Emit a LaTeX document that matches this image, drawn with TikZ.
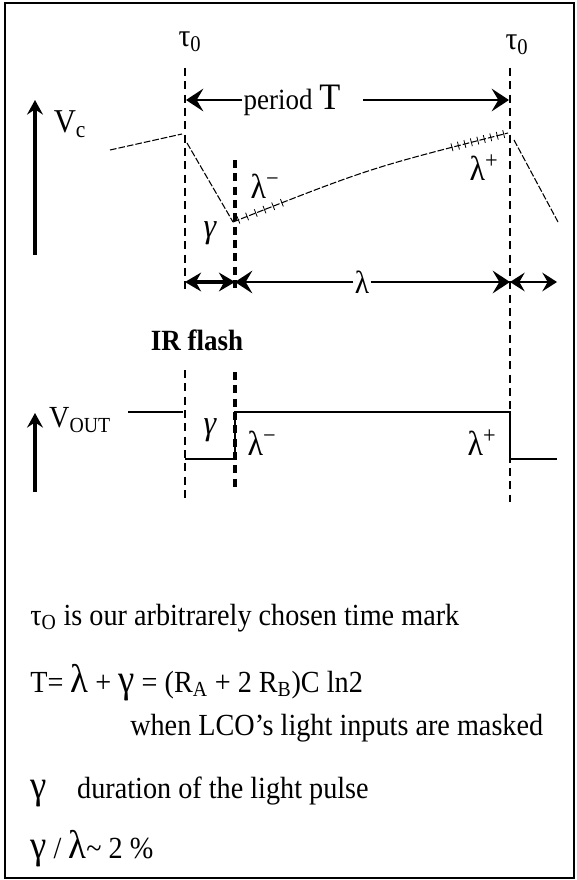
\documentclass[tikz,border=0pt]{standalone}
\usepackage{fontspec}
\setmainfont{Liberation Serif}[FakeStretch=0.92]
\usetikzlibrary{positioning,arrows.meta,calc,decorations.markings}

\newcommand{\bigsym}[1]{{\fontsize{30pt}{30pt}\selectfont #1}}

\begin{document}
\begin{tikzpicture}[
                    x=0.75pt, y=-0.75pt,
                    guide/.style={line width=0.8pt, dash pattern=on 6pt off 4pt},
                    guidebold/.style={line width=2.4pt, dash pattern=on 6pt off 4pt},
                    trace/.style={line width=0.8pt, dash pattern=on 5pt off 1.5pt},
                    level/.style={line width=1.2pt},
                    axis/.style={-{Stealth[length=11pt,width=12pt,inset=4pt]}, line width=2.4pt},
                    span/.style={-{Stealth[length=13pt,width=17pt,inset=5pt]}, line width=1.8pt},
                    lbl/.style={inner sep=1pt, font=\fontsize{23pt}{26pt}\selectfont},
                    note/.style={anchor=base west, inner sep=0pt, font=\fontsize{23pt}{26pt}\selectfont}
                ]
                    \useasboundingbox (0,0) rectangle (577,880);
                    \draw[line width=1pt] (5,3) rectangle (574,878);

                    % Time marks and guides
                    \node[lbl, font=\fontsize{24pt}{26pt}\selectfont] (tauL) at (190,42) {τ\textsubscript{0}};
                    \node[lbl, font=\fontsize{24pt}{26pt}\selectfont] (tauR) at (517,45) {τ\textsubscript{0}};
                    \coordinate (gLtop) at (185,68);
                    \coordinate (gLmid) at (185,293);
                    \coordinate (gLlow) at (185,370);
                    \coordinate (gLbot) at (185,503);
                    \coordinate (gMtop) at (235,160);
                    \coordinate (gMmid) at (235,293);
                    \coordinate (gMlow) at (235,372);
                    \coordinate (gMbot) at (235,487);
                    \coordinate (gRtop) at (510,68);
                    \coordinate (gRbot) at (510,502);
                    \draw[guide] (gLtop) -- (gLmid);
                    \draw[guide] (gLlow) -- (gLbot);
                    \draw[guidebold] (gMtop) -- (gMmid);
                    \draw[guidebold] (gMlow) -- (gMbot);
                    \draw[guidebold, line width=1.8pt] (gRtop) -- (gRbot);

                    % Period
                    \node[lbl] (period) at (292,100) {\fontsize{22pt}{24pt}\selectfont period \fontsize{28pt}{30pt}\selectfont T};
                    \coordinate (perL) at (186,100);
                    \coordinate (perR) at (509,100);
                    \draw[span] (period) -- (perL);
                    \draw[span] ([xshift=16pt]period.east) -- (perR);

                    % Vc
                    \coordinate (vcB) at (35,255);
                    \coordinate (vcT) at (35,100);
                    \draw[axis] (vcB) -- (vcT);
                    \node[lbl, font=\fontsize{25pt}{27pt}\selectfont] (vc) at (70,124) {V\textsubscript{c}};

                    \coordinate (w0) at (110,150);
                    \coordinate (w1) at (182,134);
                    \coordinate (w2) at (187,143);
                    \coordinate (w3) at (233,222);
                    \coordinate (w4) at (508,133);
                    \coordinate (w5) at (514,140);
                    \coordinate (w6) at (558,222);
                    \draw[trace] (w0) -- (w1);
                    \draw[trace] (w2) -- (w3);
                    \draw[trace, postaction={decorate, decoration={markings,
                        mark=between positions 0.02 and 0.2 step 7pt with {\draw[solid, line width=0.6pt] (0,-3pt) -- (0,3pt);},
                        mark=between positions 0.8 and 0.99 step 5pt with {\draw[solid, line width=0.6pt] (0,-3pt) -- (0,3pt);}}}]
                        (w3) .. controls (370,168) .. (w4);
                    \draw[trace] (w5) -- (w6);

                    \node[lbl, font=\fontsize{26pt}{28pt}\selectfont] (lamMup) at (265,186) {λ\textsuperscript{−}};
                    \node[lbl, font=\fontsize{26pt}{28pt}\selectfont] (lamPup) at (484,168) {λ\textsuperscript{+}};
                    \node[lbl, font=\fontsize{26pt}{28pt}\itshape\selectfont] (gamUp) at (210,233) {γ};

                    % Spans
                    \coordinate (sA) at (185,282);
                    \coordinate (sB) at (235,282);
                    \coordinate (sC) at (510,282);
                    \coordinate (sD) at (557,282);
                    \draw[{Stealth[length=12pt,width=14pt]}-{Stealth[length=12pt,width=14pt]}, line width=3pt] (sA) -- (sB);
                    \node[lbl, font=\fontsize{24pt}{26pt}\selectfont] (lam) at (362,282) {λ};
                    \draw[span] (lam) -- (sB);
                    \draw[span] (lam) -- (sC);
                    \draw[{Stealth[length=11pt,width=14pt,inset=4pt]}-{Stealth[length=11pt,width=14pt,inset=4pt]}, line width=1.5pt] (sC) -- (sD);

                    \node[lbl, font=\fontsize{22pt}{24pt}\bfseries\selectfont] (ir) at (197,340) {IR flash};

                    % Vout
                    \coordinate (voB) at (35,492);
                    \coordinate (voT) at (35,413);
                    \draw[axis] (voB) -- (voT);
                    \node[lbl, font=\fontsize{23pt}{25pt}\selectfont] (vout) at (80,420) {V\textsubscript{OUT}};

                    \coordinate (o0) at (128,412);
                    \coordinate (o1) at (183,412);
                    \coordinate (o2) at (185,459);
                    \coordinate (o3) at (235,459);
                    \coordinate (o4) at (235,412);
                    \coordinate (o5) at (510,412);
                    \coordinate (o6) at (510,459);
                    \coordinate (o7) at (557,459);
                    \draw[level] (o0) -- (o1);
                    \draw[level] (o2) -- (o3) -- (o4) -- (o5) -- (o6) -- (o7);

                    \node[lbl, font=\fontsize{26pt}{28pt}\itshape\selectfont] (gamLo) at (210,430) {γ};
                    \node[lbl, font=\fontsize{26pt}{28pt}\selectfont] (lamMlo) at (262,443) {λ\textsuperscript{−}};
                    \node[lbl, font=\fontsize{26pt}{28pt}\selectfont] (lamPlo) at (482,443) {λ\textsuperscript{+}};

                    % Notes
                    \node[note] (n1) at (30,625) {τ\textsubscript{O} is our arbitrarely chosen time mark};
                    \node[note] (n2) at (30,692) {T= \bigsym{λ} + \bigsym{γ} = (R\textsubscript{A} + 2 R\textsubscript{B})C ln2};
                    \node[note] (n3) at (130,735) {when LCO's light inputs are masked};
                    \node[note] (n4) at (30,798) {\bigsym{γ}\quad duration of the light pulse};
                    \node[note] (n5) at (30,858) {\bigsym{γ} / \bigsym{λ}\textasciitilde\ 2 \%};
                \end{tikzpicture}
\end{document}
